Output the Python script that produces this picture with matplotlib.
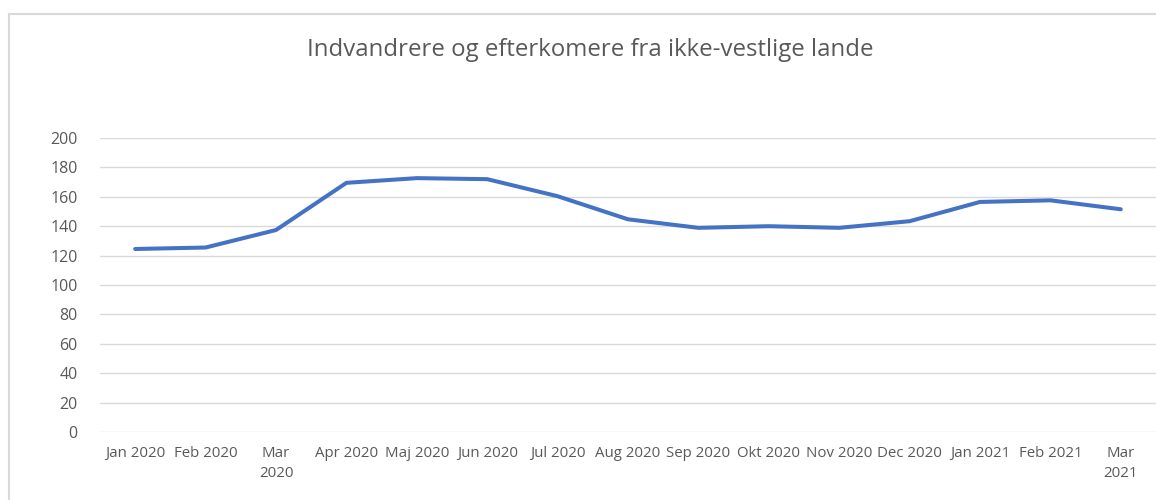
import matplotlib
matplotlib.use("Agg")
import matplotlib.pyplot as plt
from matplotlib.lines import Line2D

FONT = ["Open Sans", "DejaVu Sans"]
plt.rcParams["font.family"] = FONT

LINE, GRID, TXT = "#4472C4", "#D9D9D9", "#595959"

months = ["Jan 2020", "Feb 2020", "Mar\n2020", "Apr 2020", "Maj 2020", "Jun 2020",
          "Jul 2020", "Aug 2020", "Sep 2020", "Okt 2020", "Nov 2020", "Dec 2020",
          "Jan 2021", "Feb 2021", "Mar\n2021"]
values = [124.5, 125.5, 137.4, 169.5, 172.7, 172.0, 160.4, 144.7, 138.9, 140.0,
          138.9, 143.4, 156.5, 157.6, 151.5]
yticks = list(range(0, 201, 20))
title = "Indvandrere og efterkomere fra ikke-vestlige lande"

W, H = 1156, 500
fig = plt.figure(figsize=(W / 100, H / 100), dpi=100)
ax = fig.add_axes([100 / W, (H - 432) / H, 1056 / W, 294 / H])

xs = range(len(months))
ax.plot(xs, values, color=LINE, lw=2.9, solid_capstyle="round", solid_joinstyle="round", zorder=3)

ax.set_xlim(-0.5, len(months) - 0.5)
ax.set_ylim(0, 200)
ax.set_yticks(yticks)
ax.set_xticks(list(xs))
ax.set_xticklabels(months, fontsize=10.8, color=TXT, linespacing=1.5, va="top")
ax.tick_params(axis="y", labelsize=11.5, labelcolor=TXT, length=0, pad=16)
ax.tick_params(axis="x", length=0, pad=10)
ax.grid(axis="y", color=GRID, lw=1)
ax.set_axisbelow(True)
for s in ax.spines.values():
    s.set_visible(False)

fig.text(590 / W, 1 - 50 / H, title, ha="center", va="center", fontsize=17.3, color=TXT)

# chart frame (top and left edges visible)
fig.add_artist(Line2D([9 / W, 1], [1 - 14 / H, 1 - 14 / H], color=GRID, lw=1.5, transform=fig.transFigure))
fig.add_artist(Line2D([9 / W, 9 / W], [0, 1 - 14 / H], color=GRID, lw=1.5, transform=fig.transFigure))

fig.savefig("out.png", dpi=100)
